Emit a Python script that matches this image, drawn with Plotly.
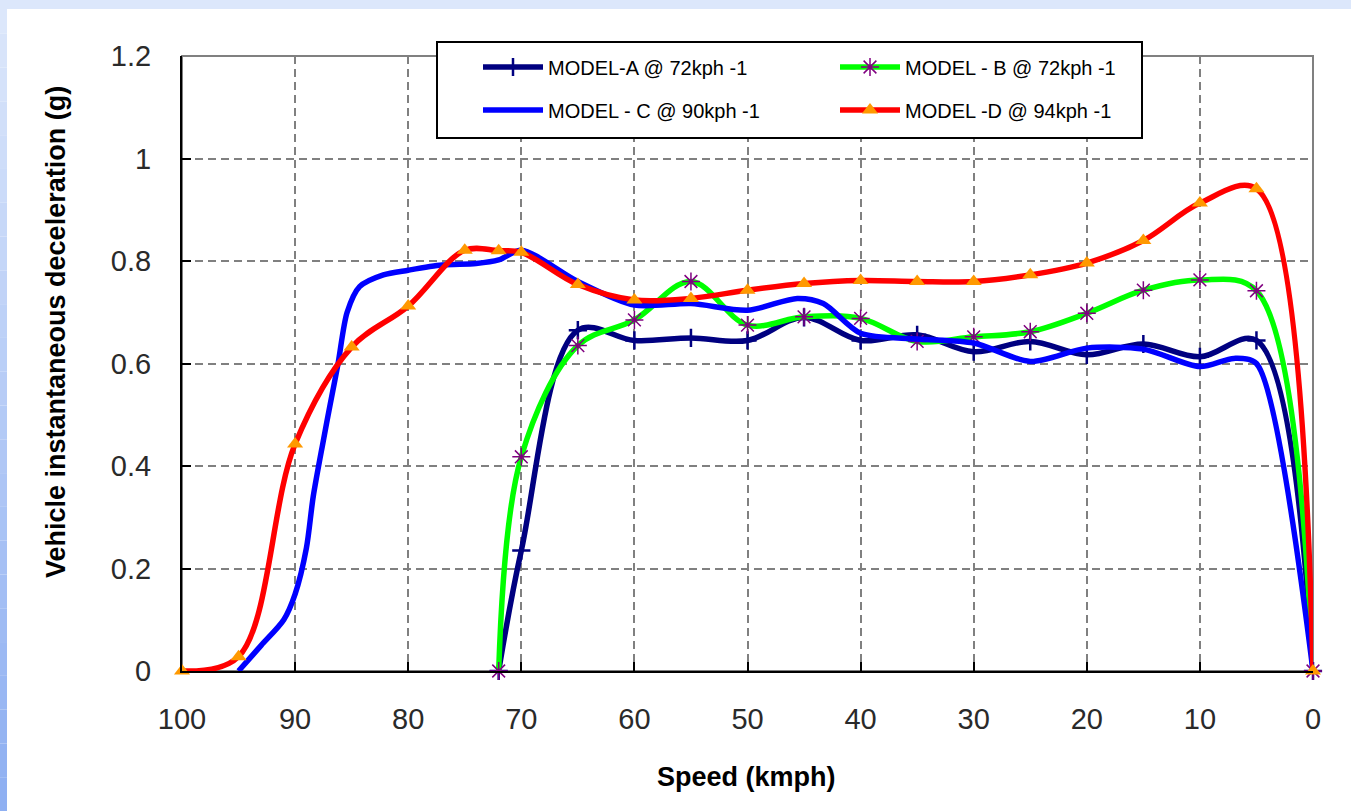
import plotly.graph_objects as go

# ---------------- data ----------------
speed_a = [72, 70, 65, 60, 55, 50, 45, 40, 35, 30, 25, 20, 15, 10, 5, 0]
decel_a = [0, 0.235, 0.665, 0.645, 0.65, 0.645, 0.69, 0.645, 0.656, 0.623,
           0.643, 0.617, 0.638, 0.613, 0.645, 0]

speed_b = [72, 70, 65, 60, 55, 50, 45, 40, 35, 30, 25, 20, 15, 10, 5, 0]
decel_b = [0, 0.418, 0.635, 0.685, 0.76, 0.675, 0.691, 0.688, 0.643, 0.652,
           0.662, 0.698, 0.743, 0.763, 0.742, 0]

speed_c = [95, 93, 91, 90, 89, 88.4, 87.5, 86.9, 86.2, 85.4, 84.3, 82.2, 80,
           77, 74, 72, 70, 65, 60, 55, 50, 45.6, 43.3, 40, 35, 30, 25, 20,
           15, 10, 7, 5, 0]
decel_c = [0, 0.05, 0.10, 0.15, 0.24, 0.34, 0.45, 0.52, 0.60, 0.70, 0.75,
           0.773, 0.782, 0.792, 0.795, 0.802, 0.821, 0.76, 0.714, 0.717,
           0.704, 0.727, 0.717, 0.659, 0.648, 0.64, 0.604, 0.63, 0.628,
           0.594, 0.61, 0.60, 0]

speed_d = [100, 95, 90, 85, 80, 75, 72, 70, 65, 60, 55, 50, 45, 40, 35, 30,
           25, 20, 15, 10, 5, 0]
decel_d = [0, 0.028, 0.443, 0.632, 0.712, 0.821, 0.82, 0.817, 0.754, 0.724,
           0.727, 0.743, 0.756, 0.762, 0.760, 0.760, 0.773, 0.796, 0.840,
           0.913, 0.941, 0]

names = ["MODEL-A @ 72kph -1", "MODEL - B @ 72kph -1",
         "MODEL - C @ 90kph -1", "MODEL -D @ 94kph -1"]

x_ticks = [100, 90, 80, 70, 60, 50, 40, 30, 20, 10, 0]
y_ticks = [0, 0.2, 0.4, 0.6, 0.8, 1.0, 1.2]

x_title = "Speed (kmph)"
y_title = "Vehicle instantaneous deceleration (g)"

# ---------------- layout geometry ----------------
W, H = 1351, 811
L, R, T, B = 182, 38, 56, 140
PW, PH = W - L - R, H - T - B


def px(x):
    return (x - L) / PW


def py(y):
    return (H - B - y) / PH


FONT = "Liberation Sans, Arial, sans-serif"
LW = 5.5

fig = go.Figure()

fig.add_trace(go.Scatter(
    x=speed_a, y=decel_a, name=names[0], mode="lines+markers",
    line=dict(color="#000080", width=LW, shape="spline", smoothing=1),
    marker=dict(symbol="cross-thin", size=13, color="#000080",
                line=dict(color="#000080", width=2.5)),
    legend="legend", cliponaxis=False))

fig.add_trace(go.Scatter(
    x=speed_b, y=decel_b, name=names[1], mode="lines+markers",
    line=dict(color="#00ff00", width=LW, shape="spline", smoothing=1),
    marker=dict(symbol="asterisk", size=15, color="#800080",
                line=dict(color="#800080", width=1.5)),
    legend="legend", cliponaxis=False))

fig.add_trace(go.Scatter(
    x=speed_c, y=decel_c, name=names[2], mode="lines",
    line=dict(color="#0000ff", width=LW, shape="spline", smoothing=0.8),
    legend="legend2", cliponaxis=False))

fig.add_trace(go.Scatter(
    x=speed_d, y=decel_d, name=names[3], mode="lines+markers",
    line=dict(color="#ff0000", width=LW, shape="spline", smoothing=1),
    marker=dict(symbol="triangle-up", size=14, color="#ff9900"),
    legend="legend2", cliponaxis=False))

# background: light-blue frame strips at top and left
shapes = []
n = 24
for i in range(n):
    t = i / (n - 1)
    r = int(0xdc + (0x8f - 0xdc) * t)
    g = int(0xe7 + (0xb0 - 0xe7) * t)
    b = int(0xfb + (0xf2 - 0xfb) * t)
    shapes.append(dict(type="rect", xref="paper", yref="paper",
                       x0=px(0), x1=px(7), y0=py(H * i / n), y1=py(H * (i + 1) / n),
                       fillcolor=f"rgb({r},{g},{b})", line=dict(width=0), layer="below"))
shapes.append(dict(type="rect", xref="paper", yref="paper",
                   x0=px(0), x1=px(W), y0=py(0), y1=py(9),
                   fillcolor="#dce7fb", line=dict(width=0), layer="below"))
# plot-area border (grey)
shapes.append(dict(type="rect", xref="paper", yref="paper", x0=0, x1=1, y0=0, y1=1,
                   line=dict(color="#808080", width=2), layer="below"))
# legend box
shapes.append(dict(type="rect", xref="paper", yref="paper",
                   x0=px(437), x1=px(1142), y0=py(138), y1=py(42),
                   fillcolor="white", line=dict(color="black", width=2), layer="above"))

legend_common = dict(orientation="h", xanchor="left", yanchor="middle",
                     font=dict(family=FONT, size=20, color="black"),
                     bgcolor="rgba(0,0,0,0)", borderwidth=0,
                     entrywidth=282, entrywidthmode="pixels", itemwidth=60)

fig.update_layout(
    width=W, height=H, autosize=False,
    margin=dict(l=L, r=R, t=T, b=B, pad=0),
    paper_bgcolor="white", plot_bgcolor="white",
    font=dict(family=FONT, color="black"),
    showlegend=True,
    legend=dict(x=px(478), y=py(67), **legend_common),
    legend2=dict(x=px(478), y=py(110), **legend_common),
    shapes=shapes,
    xaxis=dict(range=[100, 0], tickvals=x_ticks, showgrid=True,
               gridcolor="#808080", gridwidth=2, griddash="8px,5px",
               showline=True, linecolor="black", linewidth=2,
               ticks="inside", ticklen=9, tickwidth=2, tickcolor="black",
               tickfont=dict(family=FONT, size=29, color="#2a2a2a"),
               ticklabelstandoff=21, zeroline=False),
    yaxis=dict(range=[0, 1.2], tickvals=y_ticks, showgrid=True,
               gridcolor="#808080", gridwidth=2, griddash="8px,5px",
               showline=True, linecolor="black", linewidth=2,
               ticks="inside", ticklen=9, tickwidth=2, tickcolor="black",
               tickfont=dict(family=FONT, size=29, color="#2a2a2a"),
               ticklabelstandoff=23, zeroline=False),
    annotations=[
        dict(text=f"<b>{x_title}</b>", xref="paper", yref="paper",
             x=px(746), y=py(777), xanchor="center", yanchor="middle",
             showarrow=False, font=dict(family=FONT, size=27, color="black")),
        dict(text=f"<b>{y_title}</b>", xref="paper", yref="paper",
             x=px(56), y=py(332), xanchor="center", yanchor="middle",
             textangle=-90, showarrow=False,
             font=dict(family=FONT, size=27, color="black")),
    ],
)

fig.write_html("out.html",
               config={"displayModeBar": False},
               post_script="document.body.style.margin='0px';"
                           "document.body.style.padding='0px';")
